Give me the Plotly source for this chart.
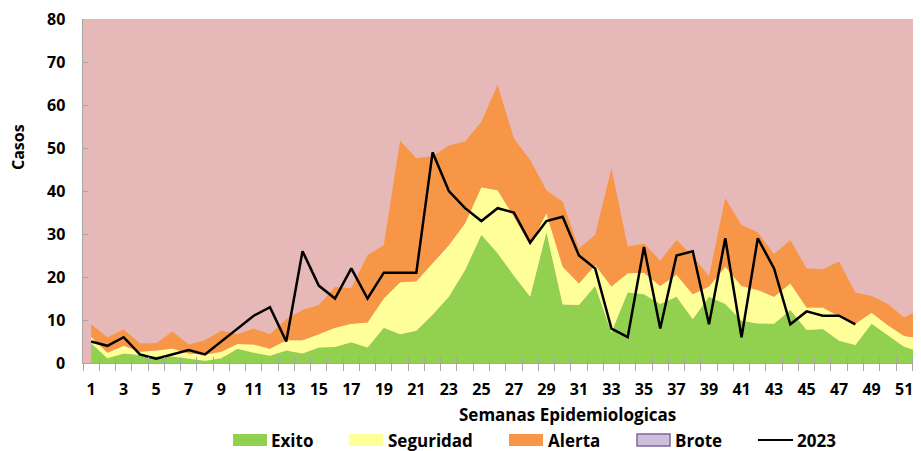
import plotly.graph_objects as go

weeks = list(range(1, 53))

exito = [4.6, 1.1, 2.2, 1.8, 1.5, 1.5, 1.0, 0.5, 1.1, 3.3, 2.4, 1.7, 2.9, 2.2, 3.6, 3.7,
         4.8, 3.6, 8.2, 6.7, 7.5, 11.2, 15.4, 21.6, 29.8, 25.5, 20.3, 15.4, 30.4, 13.6,
         13.5, 17.9, 7.1, 16.4, 16.0, 13.7, 15.4, 10.2, 15.4, 13.7, 9.8, 9.2, 9.1, 12.3,
         7.7, 7.9, 5.2, 4.2, 9.1, 6.5, 3.8, 2.6]

seguridad = [6.1, 2.4, 4.0, 2.6, 2.9, 3.4, 2.2, 1.9, 2.6, 4.4, 4.3, 3.3, 5.3, 5.3, 6.7, 8.2,
             9.1, 9.4, 15.0, 18.8, 19.0, 23.2, 27.4, 32.5, 40.9, 40.2, 34.0, 27.4, 34.8, 22.4,
             18.5, 22.8, 17.8, 20.9, 21.0, 17.9, 20.5, 16.0, 17.8, 22.4, 17.9, 17.0, 15.4, 18.5,
             12.9, 12.9, 10.8, 9.1, 11.7, 8.8, 6.3, 5.7]

alerta = [9.0, 6.0, 7.8, 4.6, 4.6, 7.3, 4.3, 5.3, 7.5, 6.7, 8.0, 6.7, 10.2, 12.3, 13.5, 17.7,
          17.4, 25.1, 27.4, 51.7, 47.6, 48.1, 50.6, 51.5, 56.1, 64.7, 52.2, 47.2, 40.2, 37.5,
          26.6, 29.8, 45.3, 27.1, 27.8, 23.8, 28.6, 24.9, 20.2, 38.3, 32.1, 30.4, 25.3, 28.6,
          22.0, 21.8, 23.6, 16.4, 15.6, 13.7, 10.6, 12.5]

weeks_2023 = list(range(1, 49))
casos_2023 = [5, 4, 6, 2, 1, 2, 3, 2, 5, 8, 11, 13, 5, 26, 18, 15, 22, 15, 21, 21, 21, 49,
              40, 36, 33, 36, 35, 28, 33, 34, 25, 22, 8, 6, 27, 8, 25, 26, 9, 29, 6, 29,
              22, 9, 12, 11, 11, 9]

y_ticks = list(range(0, 81, 10))
x_ticks = list(range(1, 53, 2))

FONT = "Open Sans"
GREEN = "#92d050"
YELLOW = "#ffff99"
ORANGE = "#f79646"
PINK = "#e6b8b7"
LAV = "#ccc0da"
PURPLE = "#8064a2"
GRAY = "#a6a6a6"

# page body has an 8px default margin; the figure is sized so that it fills the window
OFF = 8
W, H = 921 - OFF, 451 - OFF
L, R, T, B = 83 - OFF, 0, 19 - OFF, 88
PW, PH = W - L - R, H - T - B
X_RANGE = [0.5, 0.5 + PW / 16.26]


def px(x):
    return (x - OFF - L) / PW


def py(y):
    return (H - B - (y - OFF)) / PH


fig = go.Figure()
fig.add_trace(go.Scatter(x=weeks, y=exito, name="Exito", mode="lines",
                         line=dict(width=0, color=GREEN), fill="tozeroy",
                         fillcolor=GREEN, showlegend=False))
fig.add_trace(go.Scatter(x=weeks, y=seguridad, name="Seguridad", mode="lines",
                         line=dict(width=0, color=YELLOW), fill="tonexty",
                         fillcolor=YELLOW, showlegend=False))
fig.add_trace(go.Scatter(x=weeks, y=alerta, name="Alerta", mode="lines",
                         line=dict(width=0, color=ORANGE), fill="tonexty",
                         fillcolor=ORANGE, showlegend=False))
fig.add_trace(go.Scatter(x=weeks_2023, y=casos_2023, name="2023", mode="lines",
                         line=dict(width=2.5, color="black"), showlegend=False))

# legend drawn as shapes + text
legend_items = [
    ("Exito", "box", GREEN, None, 233, 267, 269),
    ("Seguridad", "box", YELLOW, None, 349, 383, 386),
    ("Alerta", "box", ORANGE, None, 509, 543, 546),
    ("Brote", "box", LAV, PURPLE, 637, 670, 673),
    ("2023", "line", "black", None, 758, 793, 795),
]
ly = 440
shapes = []
annotations = []
for name, kind, col, border, x0, x1, tx in legend_items:
    if kind == "box":
        shapes.append(dict(type="rect", xref="paper", yref="paper",
                           x0=px(x0), x1=px(x1), y0=py(ly + 6), y1=py(ly - 6),
                           fillcolor=col,
                           line=dict(width=1.5 if border else 0, color=border or col)))
    else:
        shapes.append(dict(type="line", xref="paper", yref="paper",
                           x0=px(x0), x1=px(x1), y0=py(ly), y1=py(ly),
                           line=dict(width=2, color=col)))
    annotations.append(dict(text=name, xref="paper", yref="paper", x=px(tx), y=py(ly),
                            xanchor="left", yanchor="middle", showarrow=False,
                            font=dict(family=FONT, size=17, color="black", weight="bold")))

# y tick labels (right-aligned next to the axis)
for v in y_ticks:
    annotations.append(dict(text=str(v), xref="paper", yref="y", x=px(66), y=v,
                            xanchor="right", yanchor="middle", showarrow=False,
                            borderpad=0,
                            font=dict(family=FONT, size=16, color="black", weight="bold")))

annotations.append(dict(text="Semanas Epidemiologicas", xref="paper", yref="paper",
                        x=px(567), y=py(414), xanchor="center", yanchor="middle",
                        showarrow=False,
                        font=dict(family=FONT, size=17, color="black", weight="bold")))
annotations.append(dict(text="Casos", xref="paper", yref="paper",
                        x=px(18), y=py(147), xanchor="center", yanchor="middle",
                        textangle=-90, showarrow=False, borderpad=0,
                        font=dict(family=FONT, size=16, color="black", weight="bold")))

fig.update_layout(
    width=W, height=H,
    margin=dict(l=L, r=R, t=T, b=B, autoexpand=False),
    paper_bgcolor="white",
    plot_bgcolor=PINK,
    showlegend=False,
    shapes=shapes,
    annotations=annotations,
    font=dict(family=FONT, size=16, color="black"),
    xaxis2=dict(overlaying="x", range=X_RANGE, side="bottom",
                tickvals=[w - 0.5 for w in weeks] + [weeks[-1] + 0.5],
                ticks="inside", ticklen=6, tickcolor=GRAY, tickwidth=1,
                showticklabels=False, showgrid=False, zeroline=False, showline=False),
)
fig.update_xaxes(
    selector=dict(overlaying=None),
)
fig.layout.xaxis.update(
    range=X_RANGE,
    tickvals=x_ticks, ticktext=[str(v) for v in x_ticks],
    ticks="", showgrid=False, zeroline=False,
    showline=True, linecolor=GRAY, linewidth=1,
    tickfont=dict(family=FONT, size=16, color="black", weight="bold"),
    ticklabelstandoff=12,
    minor=dict(tick0=0.5, dtick=1, ticks="outside", ticklen=7,
               tickcolor=GRAY, tickwidth=1, showgrid=False),
)
fig.update_yaxes(
    range=[0, 80], tickvals=y_ticks,
    ticks="inside", ticklen=5, tickcolor=GRAY,
    showgrid=False, zeroline=False,
    showline=True, linecolor=GRAY, linewidth=1,
    showticklabels=False,
)
# invisible helper so the overlay axis with the upper tick halves is drawn
fig.add_trace(go.Scatter(x=[weeks[0]], y=[None], xaxis="x2", mode="lines",
                         showlegend=False, hoverinfo="skip"))

fig.write_html("out.html")
